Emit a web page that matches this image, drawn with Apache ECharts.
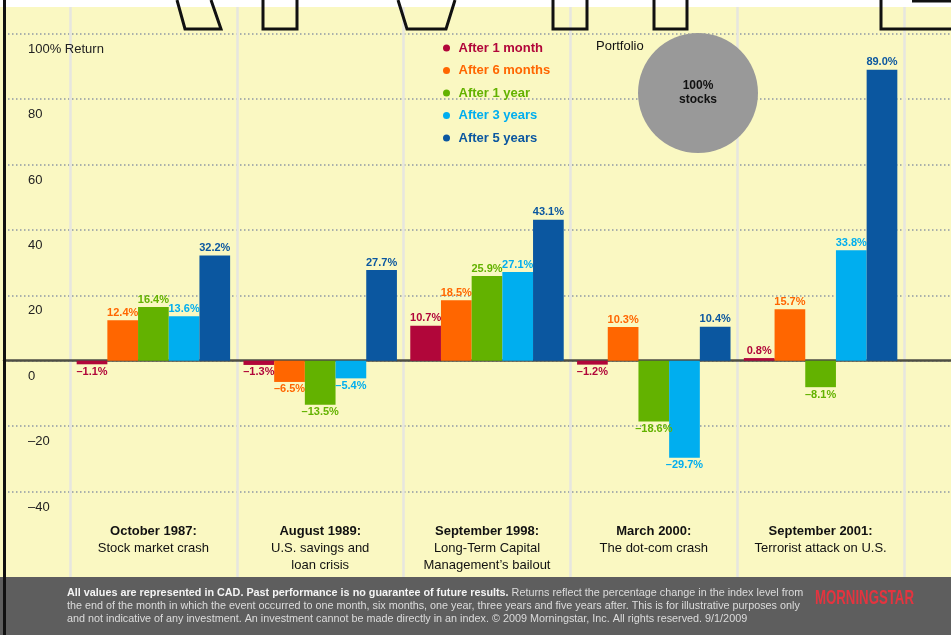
<!DOCTYPE html>
<html>
<head>
<meta charset="utf-8">
<script src="https://cdn.jsdelivr.net/npm/echarts@6/dist/echarts.min.js"></script>
<style>
html,body{margin:0;padding:0;background:#fff;}
#chart{width:951px;height:635px;}
</style>
</head>
<body>
<div id="chart"></div>
<script>
// ---- data ----
const categoryTitles = ['October 1987:', 'August 1989:', 'September 1998:', 'March 2000:', 'September 2001:'];
const categorySubtitles = [
  ['Stock market crash'],
  ['U.S. savings and', 'loan crisis'],
  ['Long-Term Capital', 'Management\u2019s bailout'],
  ['The dot-com crash'],
  ['Terrorist attack on U.S.']
];
const seriesNames = ['After 1 month', 'After 6 months', 'After 1 year', 'After 3 years', 'After 5 years'];
const after1Month  = [-1.1, -1.3, 10.7, -1.2, 0.8];
const after6Months = [12.4, -6.5, 18.5, 10.3, 15.7];
const after1Year   = [16.4, -13.5, 25.9, -18.6, -8.1];
const after3Years  = [13.6, -5.4, 27.1, -29.7, 33.8];
const after5Years  = [32.2, 27.7, 43.1, 10.4, 89.0];
const yTickValues = [-40, -20, 0, 20, 40, 60, 80, 100];
const yTickLabels = ['\u201340', '\u201320', '0', '20', '40', '60', '80', '100% Return'];
const portfolioNames = ['100%\nstocks'];
const portfolioValues = [100];
const footerBold = 'All values are represented in CAD. Past performance is no guarantee of future results.';
const footerLines = [
  ' Returns reflect the percentage change in the index level from',
  'the end of the month in which the event occurred to one month, six months, one year, three years and five years after. This is for illustrative purposes only',
  'and not indicative of any investment. An investment cannot be made directly in an index. \u00a9 2009 Morningstar, Inc. All rights reserved. 9/1/2009'
];

// ---- styling ----
const FONT = '"Liberation Sans", Arial, Helvetica, sans-serif';
const colors = ['#B1063A', '#FF6600', '#63B200', '#00AEEF', '#0B57A0'];
const allSeries = [after1Month, after6Months, after1Year, after3Years, after5Years];

const chart = echarts.init(document.getElementById('chart'), null, {renderer: 'canvas'});

const barSeries = allSeries.map((vals, i) => ({
  name: seriesNames[i],
  type: 'bar',
  xAxisIndex: 1,
  yAxisIndex: 1,
  barGap: '0%',
  barCategoryGap: '8%',
  itemStyle: {color: colors[i]},
  z: 3,
  data: vals.map(v => ({
    value: v,
    label: {position: v < 0 ? 'bottom' : 'top'}
  })),
  label: {
    show: true,
    distance: 2,
    color: colors[i],
    fontFamily: FONT,
    fontWeight: 'bold',
    fontSize: 11,
    formatter: p => (p.value < 0 ? '\u2013' : '') + Math.abs(p.value).toFixed(1) + '%'
  },
  emphasis: {disabled: true}
}));

const option = {
  animation: false,
  backgroundColor: '#FAF8C2',
  textStyle: {fontFamily: FONT},
  grid: [
    {left: 4, right: 0, top: 33.7, bottom: 143.5},
    {left: 70, right: 47, top: 33.7, bottom: 143.5},
    {left: 70, right: 47, top: 7, bottom: 58}
  ],
  xAxis: [
    {
      gridIndex: 0, type: 'value', min: 0, max: 1,
      axisLine: {show: true, onZero: true, lineStyle: {color: '#4E4E44', width: 2.5}},
      axisTick: {show: false}, axisLabel: {show: false}, splitLine: {show: false}
    },
    {
      gridIndex: 1, type: 'category', data: categoryTitles,
      axisLine: {show: false, onZero: false}, axisTick: {show: false}, splitLine: {show: false},
      axisLabel: {
        show: true, interval: 0, margin: 31, verticalAlign: 'top',
        formatter: (value, idx) => {
          const lines = ['{t|' + categoryTitles[idx] + '}'];
          categorySubtitles[idx].forEach(s => lines.push('{s|' + s + '}'));
          return lines.join('\n');
        },
        rich: {
          t: {fontFamily: FONT, fontWeight: 'bold', fontSize: 13, lineHeight: 17, color: '#111'},
          s: {fontFamily: FONT, fontSize: 13, lineHeight: 17, color: '#111'}
        }
      }
    },
    {
      gridIndex: 2, type: 'category', data: categoryTitles,
      axisLine: {show: false}, axisTick: {show: false}, axisLabel: {show: false},
      splitLine: {show: true, interval: 0, showMinLine: true, showMaxLine: true,
        lineStyle: {color: '#E6E6DF', width: 2.5}}
    }
  ],
  yAxis: [
    {
      gridIndex: 0, type: 'value', min: -40, max: 100, interval: 20,
      axisLine: {show: false}, axisTick: {show: false},
      splitLine: {show: true, showMinLine: true, showMaxLine: true,
        lineStyle: {color: '#8F98A4', type: [1.5, 2.5], width: 1.5}},
      axisLabel: {
        show: true, inside: true, margin: 24, align: 'left', verticalAlign: 'top',
        padding: [9, 0, 0, 0], lineHeight: 13,
        color: '#222', fontSize: 13, fontFamily: FONT,
        formatter: v => {
          const i = yTickValues.indexOf(v);
          return i >= 0 ? yTickLabels[i] : '';
        }
      }
    },
    {
      gridIndex: 1, type: 'value', min: -40, max: 100, interval: 20, show: false,
      splitLine: {show: false}
    },
    {
      gridIndex: 2, type: 'value', min: 0, max: 1, show: false, splitLine: {show: false}
    }
  ],
  legend: {
    orient: 'vertical',
    left: 438, top: 36,
    itemWidth: 14, itemHeight: 7, itemGap: 8.5,
    icon: 'circle',
    selectedMode: false,
    z: 10,
    textStyle: {fontFamily: FONT, fontWeight: 'bold', fontSize: 13, lineHeight: 14},
    data: seriesNames.map((n, i) => ({name: n, textStyle: {color: colors[i]}}))
  },
  series: barSeries.concat([{
    type: 'pie',
    center: [698, 93],
    radius: 60,
    silent: true,
    z: 4,
    itemStyle: {color: '#999999', borderWidth: 0},
    label: {
      show: true, position: 'center', color: '#111',
      fontFamily: FONT, fontWeight: 'bold', fontSize: 12, lineHeight: 14,
      padding: [3, 0, 0, 0]
    },
    labelLine: {show: false},
    emphasis: {disabled: true},
    data: portfolioValues.map((v, i) => ({value: v, name: portfolioNames[i]}))
  }]),
  graphic: [
    {type: 'rect', shape: {x: 0, y: 0, width: 951, height: 7}, style: {fill: '#ffffff'}, z: 50, silent: true},
    {type: 'polyline', shape: {points: [[177, 0], [185, 29], [221, 29], [211, 0]]}, style: {stroke: '#111', lineWidth: 3, fill: null}, z: 51, silent: true},
    {type: 'polyline', shape: {points: [[263, 0], [263, 29], [297, 29], [297, 0]]}, style: {stroke: '#111', lineWidth: 3, fill: null}, z: 51, silent: true},
    {type: 'polyline', shape: {points: [[398, 0], [407, 29], [446, 29], [455, 0]]}, style: {stroke: '#111', lineWidth: 3, fill: null}, z: 51, silent: true},
    {type: 'polyline', shape: {points: [[553, 0], [553, 29], [587, 29], [587, 0]]}, style: {stroke: '#111', lineWidth: 3, fill: null}, z: 51, silent: true},
    {type: 'polyline', shape: {points: [[654, 0], [654, 29], [687, 29], [687, 0]]}, style: {stroke: '#111', lineWidth: 3, fill: null}, z: 51, silent: true},
    {type: 'polyline', shape: {points: [[881, 0], [881, 29], [952, 29]]}, style: {stroke: '#111', lineWidth: 3, fill: null}, z: 51, silent: true},
    {type: 'polyline', shape: {points: [[912, 1], [952, 1]]}, style: {stroke: '#111', lineWidth: 3, fill: null}, z: 51, silent: true},
    {type: 'text', x: 596, y: 46, z: 52, silent: true,
      style: {text: 'Portfolio', fill: '#111', fontFamily: FONT, fontSize: 13, verticalAlign: 'middle', align: 'left'}},
    {type: 'rect', shape: {x: 0, y: 577, width: 951, height: 58}, style: {fill: '#5E5E5E'}, z: 60, silent: true},
    {type: 'text', x: 67, y: 586.5, z: 61, silent: true,
      style: {
        text: '{b|' + footerBold + '}' + footerLines.join('\n'),
        fill: '#DCDCDC', fontFamily: FONT, fontSize: 10.8, lineHeight: 13,
        verticalAlign: 'top', align: 'left',
        rich: {b: {fill: '#F4F4F4', fontWeight: 'bold', fontFamily: FONT, fontSize: 10.8, lineHeight: 13}}
      }},
    {type: 'text', x: 815, y: 588, z: 61, silent: true, scaleX: 0.63,
      style: {text: 'MORNINGSTAR', fill: '#E4343F', fontFamily: FONT, fontWeight: 'bold', fontSize: 21, verticalAlign: 'top', align: 'left'}},
    {type: 'rect', shape: {x: 3, y: 0, width: 3, height: 635}, style: {fill: '#111'}, z: 70, silent: true}
  ]
};

chart.setOption(option);
</script>
</body>
</html>
